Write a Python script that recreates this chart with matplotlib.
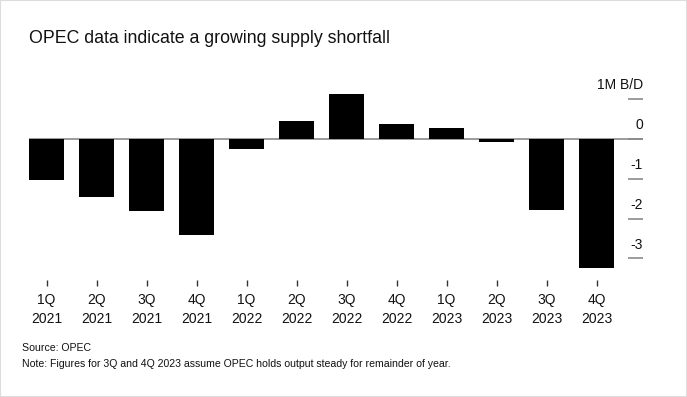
import matplotlib
matplotlib.use("Agg")
import matplotlib.pyplot as plt
from matplotlib.patches import Rectangle

# ============================================================
# DATA (millions of barrels per day)
# ============================================================

quarters = ["1Q", "2Q", "3Q", "4Q", "1Q", "2Q", "3Q", "4Q", "1Q", "2Q", "3Q", "4Q"]
years = ["2021", "2021", "2021", "2021", "2022", "2022", "2022", "2022",
         "2023", "2023", "2023", "2023"]
balance = [-1.03, -1.45, -1.82, -2.41, -0.25, 0.45, 1.12, 0.38, 0.28, -0.08, -1.79, -3.25]

y_ticks = [1, 0, -1, -2, -3]
y_tick_labels = ["1M B/D", "0", "-1", "-2", "-3"]

# ============================================================
# FIGURE
# ============================================================

plt.rcParams["font.family"] = ["Liberation Sans", "DejaVu Sans"]

W, H = 687, 397
fig = plt.figure(figsize=(W / 100, H / 100), dpi=100)
fig.patches.append(Rectangle((0, 0), 1, 1, transform=fig.transFigure,
                             fill=False, edgecolor="#dddddd", linewidth=1.5))

ax_left, ax_right = 29 / W, 643 / W
ax_top, ax_bottom = 79.3 / H, 280.3 / H
ax = fig.add_axes([ax_left, 1 - ax_bottom, ax_right - ax_left, ax_bottom - ax_top])

x = list(range(len(balance)))
ax.bar(x, balance, width=0.7, color="black", zorder=3)
ax.axhline(0, color="#8a8a8a", linewidth=1.2, zorder=2)

ax.set_xlim(-0.35, 11.93)
ax.set_ylim(-3.55, 1.5)

for s in ax.spines.values():
    s.set_visible(False)

# x axis: small ticks and two-line labels
ax.set_xticks(x)
ax.set_xticklabels([f"{q}\n{y}" for q, y in zip(quarters, years)],
                   fontsize=10, color="#111111", linespacing=1.45)
ax.tick_params(axis="x", length=4, width=1, color="#333333", pad=5)

# y axis on the right, ticks pointing inward, labels sitting above ticks
ax.yaxis.tick_right()
ax.set_yticks(y_ticks)
ax.set_yticklabels([])
ax.tick_params(axis="y", direction="in", length=11, width=1.2, color="#8a8a8a")
for v, lab in zip(y_ticks, y_tick_labels):
    ax.annotate(lab, xy=(1, v), xycoords=("axes fraction", "data"),
                xytext=(0, 7), textcoords="offset points",
                ha="right", va="baseline", fontsize=10, color="#111111")

# ============================================================
# TEXT
# ============================================================

fig.text(29 / W, 1 - 42.7 / H, "OPEC data indicate a growing supply shortfall",
         fontsize=12.75, color="#111111", ha="left", va="baseline")

fig.text(22 / W, 1 - 350.7 / H, "Source: OPEC",
         fontsize=7.6, color="#111111", ha="left", va="baseline")
fig.text(22 / W, 1 - 366.7 / H,
         "Note: Figures for 3Q and 4Q 2023 assume OPEC holds output steady for remainder of year.",
         fontsize=7.6, color="#111111", ha="left", va="baseline")

fig.savefig("out.png", dpi=100)
